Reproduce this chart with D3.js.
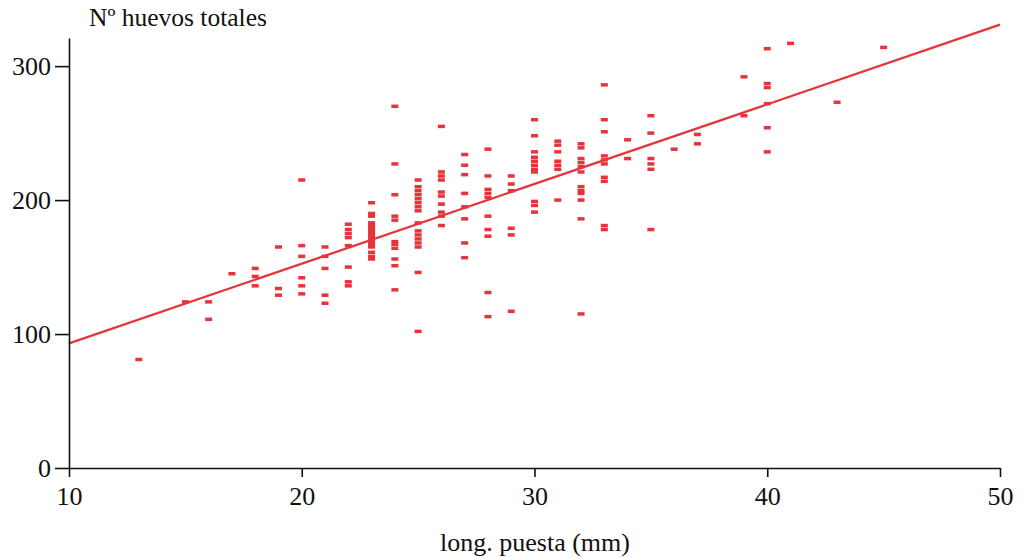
<!DOCTYPE html>
<html>
<head>
<meta charset="utf-8">
<script src="https://cdn.jsdelivr.net/npm/d3@7"></script>
<style>
  html, body { margin: 0; padding: 0; background: #fff; }
  svg text { font-family: "Liberation Serif", "Times New Roman", serif; fill: #111; }
</style>
</head>
<body>
<svg id="chart" width="1021" height="558"></svg>
<script>
// ---- data ----
const lengthValues = [13, 15, 16, 17, 18, 19, 20, 21, 22, 23, 24, 25, 26, 27, 28, 29, 30, 31, 32, 33, 34, 35, 36, 37, 39, 40, 41, 43, 45];
const eggCounts = [
  [81],
  [124],
  [124, 111],
  [145],
  [149, 143, 136],
  [165, 134, 129],
  [215, 166, 158, 142, 136, 130],
  [165, 158, 149, 129, 123],
  [182, 178, 175, 172, 166, 150, 139, 136],
  [198, 190, 188, 183, 181, 179, 177, 175, 173, 171, 169, 167, 165, 161, 158, 156],
  [270, 227, 204, 188, 185, 169, 167, 164, 156, 151, 133],
  [215, 210, 207, 204, 201, 198, 195, 192, 183, 177, 174, 171, 168, 165, 146, 102],
  [255, 221, 218, 215, 206, 203, 197, 191, 188, 181],
  [234, 226, 219, 205, 195, 186, 168, 157],
  [238, 218, 208, 205, 202, 188, 178, 173, 131, 113],
  [218, 212, 207, 179, 174, 117],
  [260, 248, 236, 232, 229, 226, 223, 221, 199, 196, 191],
  [244, 241, 236, 229, 226, 223, 200],
  [242, 239, 231, 228, 225, 221, 210, 207, 205, 200, 186, 115],
  [286, 260, 251, 233, 230, 227, 217, 214, 181, 178],
  [245, 231],
  [263, 250, 231, 227, 223, 178],
  [238],
  [249, 242],
  [292, 263],
  [313, 287, 284, 272, 254, 236],
  [317],
  [273],
  [314]
];
const fitX = [10, 50];
const fitY = [93, 331];
const xTicks = [10, 20, 30, 40, 50];
const yTicks = [0, 100, 200, 300];
const xTitle = "long. puesta (mm)";
const yTitle = "Nº huevos totales";

// ---- drawing ----
const svg = d3.select("#chart");
const red = "#e5343b";

const x = d3.scaleLinear().domain([10, 50]).range([69, 1000]);
const y = d3.scaleLinear().domain([0, 321]).range([468, 38]);

const points = [];
lengthValues.forEach((l, i) => eggCounts[i].forEach(v => points.push({ l, v })));

// regression line
svg.append("line")
  .attr("x1", x(fitX[0])).attr("y1", y(fitY[0]))
  .attr("x2", x(fitX[1])).attr("y2", y(fitY[1]))
  .attr("stroke", red).attr("stroke-width", 2.3);

// dash markers
svg.append("g").selectAll("rect").data(points).join("rect")
  .attr("x", d => x(d.l) - 3.5)
  .attr("y", d => y(d.v) - 1.75)
  .attr("width", 7).attr("height", 3.5)
  .attr("fill", red);

// axes
const xAxis = svg.append("g").attr("transform", "translate(0,468)")
  .call(d3.axisBottom(x).tickValues(xTicks).tickSize(9).tickSizeOuter(0).tickPadding(10).tickFormat(d3.format("d")));
const yAxis = svg.append("g").attr("transform", "translate(69,0)")
  .call(d3.axisLeft(y).tickValues(yTicks).tickSize(14).tickSizeOuter(0).tickPadding(4).tickFormat(d3.format("d")));

[xAxis, yAxis].forEach(a => {
  a.select(".domain").attr("stroke", "#111").attr("stroke-width", 1.6);
  a.selectAll(".tick line").attr("stroke", "#111").attr("stroke-width", 1.6);
  a.selectAll(".tick text").attr("font-size", 26).attr("fill", "#111")
    .style("font-family", '"Liberation Serif", serif');
});

svg.append("text").attr("x", 89).attr("y", 26)
  .attr("font-size", 25.5).text(yTitle);
svg.append("text").attr("x", 535).attr("y", 551)
  .attr("text-anchor", "middle").attr("font-size", 26).text(xTitle);
</script>
</body>
</html>
